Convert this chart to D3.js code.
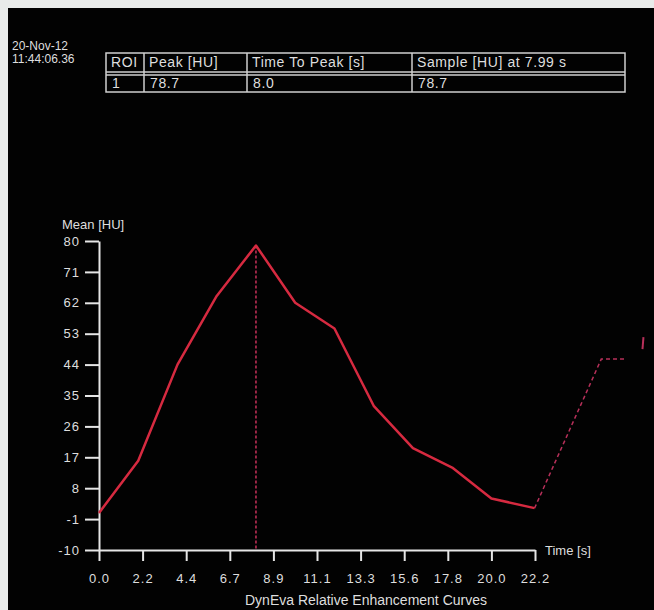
<!DOCTYPE html>
<head>
	<meta charset="utf-8">
	<script src="https://d3js.org/d3.v7.min.js"></script>
	<style>
		body {
			margin: 0;
			background: #e9ebea;
		}
		text {
			font-family: "Liberation Sans", Arial, sans-serif;
			font-size: 14px;
			fill: #dedede;
		}
		.axis path, .axis line {
			stroke: #e6e6e6;
			stroke-width: 2;
		}
		.axis text {
			fill: #dedede;
			font-size: 13px;
			letter-spacing: 1px;
		}
		.tbl text {
			letter-spacing: 0.6px;
		}
	</style>
</head>
<body>
	<script>
		// curve samples (time in s, mean HU)
		var times = [0, 2, 4, 6, 8, 10, 12, 14, 16, 18, 20, 22.2];
		var meanHU = [0.8, 16, 44, 64, 78.7, 62, 54.5, 32, 19.7, 14, 5, 2.2];
		// dashed continuation past the last sample
		var extTimes = [22.2, 25.6, 26.9];
		var extHU = [2.2, 45.6, 45.6];
		var peakTime = 8.0;
		var peakHU = 78.7;

		var xTicks = [0, 2.222, 4.444, 6.667, 8.889, 11.111, 13.333, 15.556, 17.778, 20, 22.222];
		var yTicks = [-10, -1, 8, 17, 26, 35, 44, 53, 62, 71, 80];

		var tableHeader = ["ROI", "Peak [HU]", "Time To Peak [s]", "Sample [HU] at 7.99 s"];
		var tableRow = ["1", "78.7", "8.0", "78.7"];

		var width = 654, height = 610;

		var svg = d3.select("body")
			.append("svg")
			.attr("width", width)
			.attr("height", height);

		svg.append("rect")
			.attr("x", 8).attr("y", 8)
			.attr("width", width - 8).attr("height", height - 8)
			.attr("fill", "#020202");

		// date / time stamp
		svg.append("text").attr("x", 12).attr("y", 50).style("font-size", "12px").text("20-Nov-12");
		svg.append("text").attr("x", 12).attr("y", 63).style("font-size", "12px").text("11:44:06.36");

		// results table
		var colX = [106, 144, 247, 412, 625];
		var tTop = 53, tMid = 72, tBot = 92;
		var tbl = svg.append("g")
			.attr("class", "tbl");
		var grid = tbl.append("g")
			.attr("fill", "none")
			.attr("stroke", "#cfcfcf")
			.attr("stroke-width", 1.5);
		grid.append("rect")
			.attr("x", colX[0]).attr("y", tTop)
			.attr("width", colX[4] - colX[0]).attr("height", tBot - tTop);
		grid.append("line").attr("x1", colX[0]).attr("x2", colX[4]).attr("y1", tMid).attr("y2", tMid);
		grid.append("line").attr("x1", colX[0]).attr("x2", colX[4]).attr("y1", tMid + 3).attr("y2", tMid + 3);
		colX.slice(1, 4).forEach(function(x) {
			grid.append("line").attr("x1", x).attr("x2", x).attr("y1", tTop).attr("y2", tBot);
		});
		tableHeader.forEach(function(t, i) {
			tbl.append("text").attr("x", colX[i] + 5).attr("y", tTop + 14).text(t);
		});
		tableRow.forEach(function(t, i) {
			tbl.append("text").attr("x", colX[i] + 6).attr("y", tBot - 4).text(t);
		});

		// scales
		var xScale = d3.scaleLinear()
			.domain([0, 22.222])
			.range([99, 535]);
		var yScale = d3.scaleLinear()
			.domain([-10, 80])
			.range([550, 241]);

		var xAxis = d3.axisBottom(xScale)
			.tickValues(xTicks)
			.tickFormat(d => d.toFixed(1))
			.tickSizeInner(11)
			.tickSizeOuter(0)
			.tickPadding(13);
		var yAxis = d3.axisLeft(yScale)
			.tickValues(yTicks)
			.tickFormat(d => String(d))
			.tickSizeInner(14)
			.tickSizeOuter(0)
			.tickPadding(5);

		svg.append("g")
			.attr("class", "axis")
			.attr("transform", "translate(0,550)")
			.call(xAxis);
		svg.append("g")
			.attr("class", "axis")
			.attr("transform", "translate(99,0)")
			.call(yAxis);

		svg.append("text").attr("x", 62).attr("y", 229).style("font-size", "13px").text("Mean [HU]");
		svg.append("text").attr("x", 545).attr("y", 555).style("font-size", "13px").text("Time [s]");
		svg.append("text")
			.attr("x", 366).attr("y", 605)
			.attr("text-anchor", "middle")
			.text("DynEva Relative Enhancement Curves");

		// peak marker
		svg.append("line")
			.attr("x1", xScale(peakTime)).attr("x2", xScale(peakTime))
			.attr("y1", yScale(peakHU)).attr("y2", yScale(-10))
			.attr("stroke", "#c8325a")
			.attr("stroke-width", 1.5)
			.attr("stroke-dasharray", "3,2");

		var line = d3.line()
			.x(d => xScale(d[0]))
			.y(d => yScale(d[1]));

		svg.append("path")
			.datum(d3.zip(extTimes, extHU))
			.attr("d", line)
			.attr("fill", "none")
			.attr("stroke", "#b8305a")
			.attr("stroke-width", 1.5)
			.attr("stroke-dasharray", "4,3");

		svg.append("path")
			.datum(d3.zip(times, meanHU))
			.attr("d", line)
			.attr("fill", "none")
			.attr("stroke", "#d62a40")
			.attr("stroke-width", 2.5)
			.attr("stroke-linejoin", "round");

		// small tick at right edge
		svg.append("line")
			.attr("x1", xScale(27.7)).attr("x2", xScale(27.75))
			.attr("y1", yScale(48.5)).attr("y2", yScale(52))
			.attr("stroke", "#b8305a")
			.attr("stroke-width", 2);
	</script>
</body>
</html>
